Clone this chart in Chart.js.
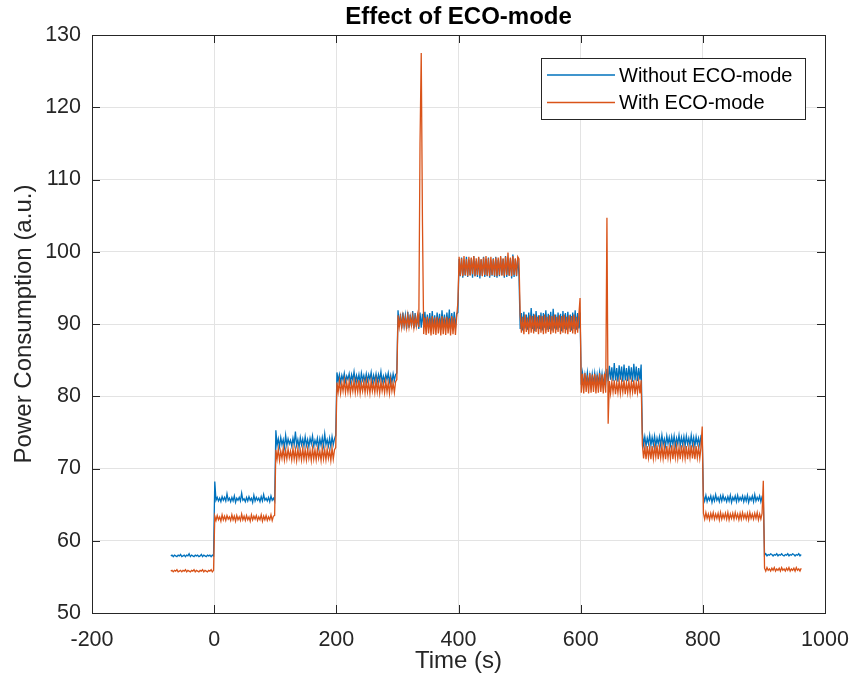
<!DOCTYPE html>
<html>
<head>
<meta charset="utf-8">
<title>Effect of ECO-mode</title>
<script src="https://cdn.jsdelivr.net/npm/chart.js@4.4.1/dist/chart.umd.min.js"></script>
<style>
  html, body { margin: 0; padding: 0; background: #fff; }
  canvas { display: block; }
</style>
</head>
<body>
<canvas id="eco-chart" width="855" height="687"></canvas>
<script>
const chartTitle = 'Effect of ECO-mode';
const xLabel = 'Time (s)';
const yLabel = 'Power Consumption (a.u.)';
const seriesNames = ['Without ECO-mode', 'With ECO-mode'];
const seriesColors = ['#0072BD', '#D95319'];
const xTicks = [-200, 0, 200, 400, 600, 800, 1000];
const yTicks = [50, 60, 70, 80, 90, 100, 110, 120, 130];

// one sample every 2 s, first one at -71 s
const sampleStart = -71;
const sampleStep = 2;

// step by step: -71..-1 (36), then 50 per 100 s step, 901..961 (31)
const withoutEco = [
  57.9, 58.0, 57.8, 58.0, 57.9, 57.8, 58.0, 57.9, 58.1, 57.8, 57.9, 58.0, 57.8, 58.0, 57.9, 58.2, 57.8, 58.0,
  57.9, 57.8, 58.0, 57.9, 58.0, 57.8, 57.9, 58.1, 57.8, 58.0, 57.9, 57.8, 58.0, 57.9, 58.0, 57.8, 58.0, 57.9,
  // 0-100
  68.2, 65.6, 66.0, 65.5, 65.9, 65.4, 66.1, 65.6, 66.0, 65.5, 66.5, 65.6, 65.9, 65.4, 66.0, 65.5, 66.2, 65.3, 65.9, 65.6, 66.0, 65.5, 66.6, 65.6, 65.8,
  65.4, 66.0, 65.5, 66.1, 65.6, 65.9, 65.3, 66.3, 65.5, 66.0, 65.6, 65.9, 65.4, 66.1, 65.5, 66.4, 65.6, 65.9, 65.5, 66.0, 65.4, 66.2, 65.6, 65.9, 65.5,
  // 100-200
  75.3, 73.2, 74.1, 73.0, 74.3, 73.3, 74.0, 72.9, 74.6, 73.2, 74.1, 73.4, 73.9, 73.1, 74.2, 73.3, 75.1, 73.2, 74.0, 72.9, 74.3, 73.3, 74.1, 73.1, 74.4,
  73.2, 74.0, 73.0, 74.2, 73.4, 74.5, 73.1, 73.9, 73.3, 74.2, 72.9, 74.1, 73.2, 74.3, 73.1, 74.8, 73.3, 74.0, 73.1, 74.2, 73.0, 74.4, 73.3, 74.1, 74.6,
  // 200-300
  83.3, 82.1, 83.0, 81.9, 82.9, 82.2, 83.2, 82.0, 82.8, 82.3, 83.1, 81.9, 83.0, 82.2, 83.4, 82.0, 82.9, 82.1, 83.0, 81.8, 83.2, 82.2, 82.9, 82.0, 83.1,
  82.1, 83.0, 82.3, 83.3, 81.9, 82.9, 82.1, 83.1, 82.0, 83.0, 82.2, 83.4, 81.9, 82.8, 82.1, 83.0, 82.3, 83.2, 82.0, 82.9, 81.9, 83.1, 82.2, 83.0, 83.2,
  // 300-400
  91.9, 89.6, 91.4, 89.4, 91.6, 89.8, 91.2, 89.3, 91.7, 89.5, 91.3, 89.7, 91.8, 89.4, 91.5, 89.6, 91.2, 89.3, 91.6, 89.5, 91.4, 89.8, 91.7, 89.4, 91.3,
  89.6, 91.5, 89.3, 91.8, 89.5, 91.2, 89.4, 91.6, 89.7, 91.4, 89.2, 91.9, 89.5, 91.3, 89.4, 91.6, 89.6, 92.0, 89.3, 91.5, 89.5, 91.7, 89.4, 91.4, 91.6,
  // 400-500
  99.0, 96.6, 99.2, 96.4, 98.8, 96.7, 99.3, 96.5, 98.9, 96.8, 99.1, 96.4, 99.4, 96.6, 98.7, 96.5, 99.2, 96.3, 98.9, 96.7, 99.3, 96.5, 99.0, 96.6, 99.2,
  96.4, 98.8, 96.7, 99.1, 96.5, 99.3, 96.4, 98.9, 96.6, 99.2, 96.8, 99.0, 96.4, 99.4, 96.5, 98.8, 96.7, 99.1, 96.3, 99.6, 96.5, 99.0, 96.6, 99.2, 96.8,
  // 500-600
  89.3, 91.5, 89.1, 91.7, 89.4, 91.3, 89.2, 91.6, 89.5, 92.2, 89.3, 91.4, 89.0, 91.8, 89.4, 91.2, 89.3, 91.6, 89.1, 91.5, 89.5, 91.9, 89.2, 91.4, 89.3,
  91.7, 89.1, 92.1, 89.4, 91.3, 89.2, 91.6, 89.5, 91.4, 89.0, 91.8, 89.3, 91.5, 89.2, 91.7, 89.4, 91.3, 89.1, 91.6, 89.3, 91.9, 89.2, 91.5, 89.4, 91.6,
  // 600-700
  81.6, 83.2, 81.5, 83.0, 81.8, 83.3, 81.6, 82.9, 81.5, 83.1, 81.7, 83.2, 81.5, 83.0, 81.8, 83.3, 81.6, 83.1, 81.5, 82.9, 81.7, 83.8, 82.1, 84.2, 82.3,
  84.0, 82.1, 84.6, 82.2, 83.9, 82.0, 84.3, 82.3, 84.1, 82.0, 84.4, 82.2, 83.9, 82.1, 84.2, 82.3, 84.0, 82.0, 84.5, 82.2, 84.1, 82.1, 83.9, 82.3, 84.4,
  // 700-800
  74.9, 73.3, 74.4, 73.1, 74.2, 73.4, 74.6, 73.2, 74.3, 73.3, 74.5, 73.1, 74.2, 73.4, 74.4, 73.2, 74.6, 73.3, 74.1, 73.1, 74.5, 73.4, 74.3, 73.2, 74.4,
  73.3, 74.5, 73.1, 74.2, 73.4, 74.6, 73.2, 74.3, 73.3, 74.4, 73.1, 74.5, 73.4, 74.2, 73.2, 74.6, 73.3, 74.3, 73.1, 74.4, 73.4, 74.2, 73.2, 74.5, 74.3,
  // 800-900
  66.2, 65.5, 66.3, 65.4, 66.0, 65.6, 66.2, 65.3, 66.1, 65.5, 66.4, 65.6, 66.0, 65.4, 66.2, 65.5, 66.3, 65.6, 66.0, 65.4, 66.1, 65.5, 66.3, 65.3, 66.0,
  65.6, 66.2, 65.4, 66.3, 65.5, 66.0, 65.6, 66.2, 65.4, 66.1, 65.5, 66.3, 65.3, 66.0, 65.6, 66.2, 65.4, 66.4, 65.5, 66.0, 65.6, 66.2, 65.4, 66.1, 65.9,
  // 900-961
  58.0, 58.2, 57.9, 58.1, 58.0, 58.2, 58.1, 57.9, 58.1, 58.0, 58.2, 57.9, 58.1, 58.0, 58.2, 58.0,
  57.9, 58.1, 58.0, 58.2, 57.9, 58.1, 58.0, 58.2, 58.1, 57.9, 58.1, 58.0, 58.2, 57.9, 58.1
];

const withEco = [
  55.8, 55.9, 55.7, 55.9, 55.8, 56.0, 55.7, 55.8, 55.9, 55.7, 55.9, 55.8, 56.0, 55.7, 55.9, 55.8, 55.7, 55.9,
  55.8, 56.0, 55.7, 55.9, 55.8, 55.7, 55.9, 55.8, 56.0, 55.7, 55.9, 55.8, 55.7, 55.9, 55.8, 56.0, 55.7, 55.9,
  // 0-100
  63.4, 62.8, 63.5, 62.9, 63.3, 62.7, 63.6, 62.9, 63.4, 62.8, 63.5, 63.0, 63.3, 62.8, 63.6, 62.9, 63.4, 62.7, 63.5, 62.9, 63.3, 62.8, 63.7, 62.9, 63.4,
  62.8, 63.5, 62.9, 63.3, 62.7, 63.6, 62.9, 63.4, 63.0, 63.5, 62.8, 63.3, 62.9, 63.6, 62.7, 63.4, 62.9, 63.5, 62.8, 63.3, 62.9, 63.6, 62.8, 63.4, 63.5,
  // 100-200
  72.6, 71.3, 72.7, 71.1, 72.4, 71.4, 72.8, 71.2, 72.5, 71.3, 72.7, 71.5, 72.4, 71.2, 72.8, 71.3, 72.6, 71.1, 72.7, 71.4, 72.5, 71.2, 72.8, 71.3, 72.6,
  71.2, 72.7, 71.4, 72.5, 71.1, 72.8, 71.3, 72.6, 71.2, 72.7, 71.4, 72.4, 71.1, 72.8, 71.3, 72.6, 71.2, 72.7, 71.4, 72.5, 71.1, 72.8, 71.3, 72.6, 72.9,
  // 200-300
  81.9, 80.6, 82.1, 80.4, 81.8, 80.7, 82.2, 80.5, 81.9, 80.6, 82.0, 80.4, 81.8, 80.7, 82.1, 80.5, 81.9, 80.6, 82.2, 80.4, 81.8, 80.7, 82.0, 80.5, 82.1,
  80.6, 81.9, 80.4, 82.1, 80.7, 81.8, 80.5, 82.2, 80.6, 81.9, 80.4, 82.0, 80.7, 81.8, 80.5, 82.1, 80.6, 81.9, 80.4, 82.2, 80.7, 81.8, 80.5, 82.0, 82.3,
  // 300-400, spike near 340 s
  91.2, 89.6, 91.0, 89.5, 91.1, 89.7, 90.9, 89.5, 91.2, 89.6, 91.0, 89.8, 91.1, 89.5, 90.9, 89.7, 91.2, 89.6, 115.0, 127.5, 104.0, 88.6, 90.9, 88.5, 91.0,
  88.7, 90.8, 88.4, 91.1, 88.6, 90.9, 88.5, 91.0, 88.7, 90.8, 88.4, 91.1, 88.6, 90.9, 88.5, 91.0, 88.7, 90.8, 88.4, 91.1, 88.6, 90.9, 88.5, 91.0, 93.0,
  // 400-500
  99.3, 96.7, 99.1, 96.6, 99.4, 96.8, 99.0, 96.6, 99.3, 96.7, 99.2, 96.9, 99.4, 96.6, 99.1, 96.8, 99.3, 96.7, 99.0, 96.6, 99.2, 96.8, 99.4, 96.7, 99.1,
  96.6, 99.3, 96.8, 99.0, 96.7, 99.2, 96.6, 99.2, 96.8, 99.4, 96.7, 99.1, 96.6, 99.3, 96.8, 99.9, 96.7, 99.2, 96.6, 99.4, 96.8, 99.1, 96.7, 99.3, 99.0,
  // 500-600
  91.2, 88.8, 91.0, 88.6, 91.3, 88.9, 90.9, 88.6, 91.2, 88.8, 91.1, 88.7, 91.3, 88.9, 91.0, 88.6, 91.2, 88.8, 91.1, 88.6, 91.3, 88.7, 91.0, 88.9, 91.2,
  88.6, 91.1, 88.8, 91.3, 88.7, 91.0, 88.9, 91.2, 88.6, 91.1, 88.8, 91.3, 88.7, 91.0, 88.6, 91.2, 88.9, 91.1, 88.7, 91.3, 88.6, 91.0, 88.8, 91.2, 93.6,
  // 600-700, spike near 644 s
  80.5, 83.1, 80.4, 83.2, 80.6, 82.9, 80.4, 83.2, 80.5, 83.0, 80.6, 83.1, 80.4, 82.9, 80.5, 83.2, 80.6, 83.0, 80.4, 83.1, 80.5, 104.7, 76.2, 82.1, 80.4,
  82.0, 80.6, 82.2, 80.3, 81.9, 80.5, 82.1, 80.4, 82.0, 80.6, 82.2, 80.3, 81.9, 80.5, 82.1, 80.4, 82.0, 80.6, 82.2, 80.3, 81.9, 80.5, 82.1, 80.4, 82.2,
  // 700-800
  73.3, 71.4, 73.0, 71.3, 73.1, 71.5, 72.9, 71.3, 73.1, 71.4, 73.0, 71.6, 73.2, 71.3, 72.9, 71.5, 73.1, 71.4, 73.0, 71.3, 73.1, 71.5, 72.9, 71.4, 73.2,
  71.3, 73.0, 71.5, 73.1, 71.4, 72.9, 71.3, 73.2, 71.5, 73.0, 71.4, 73.1, 71.3, 72.9, 71.5, 73.2, 71.4, 73.0, 71.3, 73.1, 71.5, 72.9, 71.4, 73.0, 75.8,
  // 800-900
  63.8, 63.0, 63.9, 63.1, 63.7, 62.9, 63.8, 63.1, 63.9, 63.0, 63.7, 63.1, 63.8, 62.9, 63.9, 63.0, 63.7, 63.1, 63.8, 63.0, 63.9, 62.9, 63.7, 63.1, 63.8,
  63.0, 63.9, 63.1, 63.7, 62.9, 63.8, 63.0, 63.9, 63.1, 63.7, 63.0, 63.8, 62.9, 63.9, 63.1, 63.7, 63.0, 63.8, 63.1, 63.9, 62.9, 63.7, 63.0, 63.8, 68.3,
  // 900-961
  56.2, 55.8, 56.3, 55.9, 56.1, 55.8, 56.2, 55.9, 56.3, 55.8, 56.1, 55.9, 56.2, 55.8, 56.3, 55.9,
  56.1, 55.8, 56.2, 55.9, 56.3, 55.8, 56.1, 55.9, 56.2, 55.8, 56.3, 55.9, 56.1, 55.8, 56.2
];

const FONT = '"Liberation Sans", Arial, Helvetica, sans-serif';
const INK = '#262626';

function toPoints(values) {
  return values.map((v, i) => ({ x: sampleStart + i * sampleStep, y: v }));
}

// MATLAB look: box, inward ticks, title above the axes, legend in the corner
const matlabDecor = {
  id: 'matlabDecor',
  afterDatasetsDraw(chart) {
    const { ctx, chartArea: a, scales: { x, y } } = chart;
    ctx.save();
    ctx.strokeStyle = INK;
    ctx.lineWidth = 1;
    ctx.beginPath();
    xTicks.forEach(v => {
      const px = Math.round(x.getPixelForValue(v)) + 0.5;
      ctx.moveTo(px, a.bottom); ctx.lineTo(px, a.bottom - 8);
      ctx.moveTo(px, a.top); ctx.lineTo(px, a.top + 8);
    });
    yTicks.forEach(v => {
      const py = Math.round(y.getPixelForValue(v)) + 0.5;
      ctx.moveTo(a.left, py); ctx.lineTo(a.left + 8, py);
      ctx.moveTo(a.right, py); ctx.lineTo(a.right - 8, py);
    });
    ctx.stroke();
    ctx.strokeRect(a.left + 0.5, a.top + 0.5, a.right - a.left, a.bottom - a.top);
    ctx.restore();
  },
  afterDraw(chart) {
    const { ctx, chartArea: a } = chart;
    ctx.save();
    // title
    ctx.fillStyle = '#000';
    ctx.font = 'bold 24px ' + FONT;
    ctx.textAlign = 'center';
    ctx.textBaseline = 'alphabetic';
    ctx.fillText(chartTitle, (a.left + a.right) / 2, 23.5);

    // legend
    const box = { left: 541, top: 58, w: 264, h: 61 };
    ctx.fillStyle = '#fff';
    ctx.fillRect(box.left, box.top, box.w, box.h);
    ctx.strokeStyle = INK;
    ctx.lineWidth = 1;
    ctx.strokeRect(box.left + 0.5, box.top + 0.5, box.w, box.h);
    ctx.font = '20px ' + FONT;
    ctx.textAlign = 'left';
    ctx.textBaseline = 'middle';
    chart.data.datasets.forEach((ds, i) => {
      const rowY = box.top + 17 + i * 27.5;
      ctx.strokeStyle = ds.borderColor;
      ctx.lineWidth = 1.4;
      ctx.beginPath();
      ctx.moveTo(box.left + 6, rowY);
      ctx.lineTo(box.left + 74, rowY);
      ctx.stroke();
      ctx.fillStyle = '#000';
      ctx.fillText(ds.label, box.left + 78, rowY + 1);
    });
    ctx.restore();
  }
};

new Chart(document.getElementById('eco-chart'), {
  type: 'line',
  data: {
    datasets: [
      {
        label: seriesNames[0],
        data: toPoints(withoutEco),
        borderColor: seriesColors[0],
        borderWidth: 1.3,
        pointRadius: 0,
        tension: 0,
        order: 2
      },
      {
        label: seriesNames[1],
        data: toPoints(withEco),
        borderColor: seriesColors[1],
        borderWidth: 1.3,
        pointRadius: 0,
        tension: 0,
        order: 1
      }
    ]
  },
  options: {
    responsive: false,
    animation: false,
    events: [],
    layout: { padding: { top: 35, right: 30, left: 0, bottom: 0 } },
    plugins: {
      legend: { display: false },
      title: { display: false },
      tooltip: { enabled: false }
    },
    scales: {
      x: {
        type: 'linear',
        min: -200,
        max: 1000,
        afterBuildTicks: scale => { scale.ticks = xTicks.map(v => ({ value: v })); },
        afterFit: scale => { scale.height = 74; scale.paddingLeft = 0; scale.paddingRight = 0; },
        grid: { color: '#e3e3e3', drawTicks: false },
        border: { display: false },
        ticks: { color: INK, font: { family: FONT, size: 21.5 }, padding: 14, maxRotation: 0, callback: v => String(v) },
        title: { display: true, text: xLabel, color: INK, font: { family: FONT, size: 24 }, padding: { top: 0, bottom: 11 } }
      },
      y: {
        type: 'linear',
        min: 50,
        max: 130,
        afterBuildTicks: scale => { scale.ticks = yTicks.map(v => ({ value: v })); },
        afterFit: scale => { scale.width = 92; scale.paddingTop = 0; scale.paddingBottom = 0; },
        grid: { color: '#e3e3e3', drawTicks: false },
        border: { display: false },
        ticks: { color: INK, font: { family: FONT, size: 21.5 }, padding: 11, callback: v => String(v) },
        title: { display: true, text: yLabel, color: INK, font: { family: FONT, size: 24 }, padding: { top: 10, bottom: 0 } }
      }
    }
  },
  plugins: [matlabDecor]
});
</script>
</body>
</html>
